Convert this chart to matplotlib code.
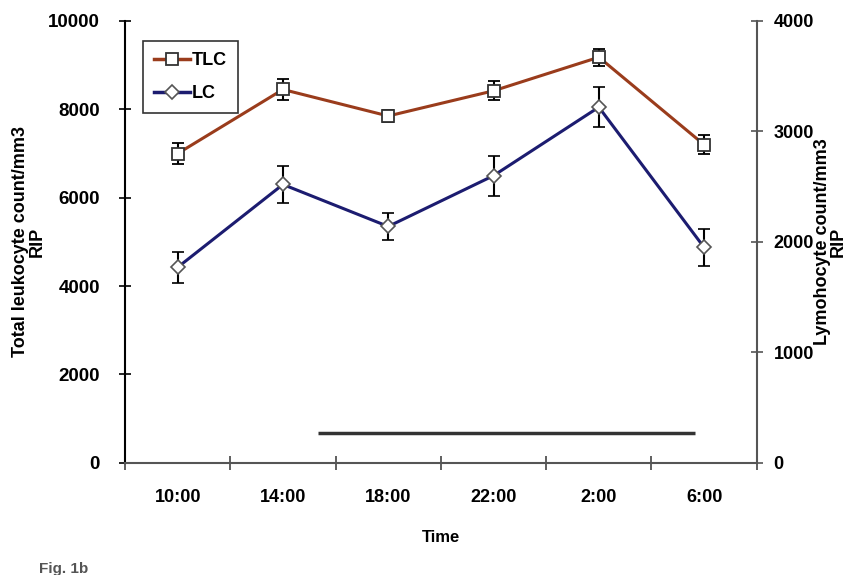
import numpy as np
import matplotlib.pyplot as plt
from matplotlib.lines import Line2D

plt.rcParams['font.family'] = ['Liberation Sans', 'DejaVu Sans']
plt.rcParams['font.weight'] = 'bold'

times = ['10:00', '14:00', '18:00', '22:00', '2:00', '6:00']
tlc = [7000, 8450, 7850, 8420, 9180, 7200]
tlc_err = [240, 235, 140, 215, 190, 215]
lc = [1770, 2520, 2140, 2600, 3220, 1950]
lc_err = [140, 165, 125, 180, 180, 170]
night_bar = (1.33, 4.91, 680)

x = np.arange(len(times))

fig = plt.figure(figsize=(8.59, 5.75), dpi=100)
ax = fig.add_axes([0.1455, 0.195, 0.7355, 0.7685])
ax2 = ax.twinx()

tlc_color = '#9a3c1c'
lc_color = '#1c1c70'

ax.errorbar(x, tlc, yerr=tlc_err, color=tlc_color, lw=2.2, marker='s', ms=9,
            mfc='white', mec='#333333', mew=1.3, ecolor='black', elinewidth=1.5,
            capsize=4, capthick=2, zorder=3)
ax2.errorbar(x, lc, yerr=lc_err, color=lc_color, lw=2.2, marker='D', ms=7,
             mfc='white', mec='#555555', mew=1.2, ecolor='black', elinewidth=1.5,
             capsize=4, capthick=2, zorder=3)

ax.hlines(night_bar[2], night_bar[0], night_bar[1], color='#333333', lw=2.5)

ax.set_xlim(-0.5, 5.5)
ax.set_ylim(0, 10000)
ax2.set_ylim(0, 4000)

ax.set_xticks(np.arange(-0.5, 6, 1))
ax.set_xticklabels([])
ax.set_xticks(x, minor=True)
ax.set_xticklabels(times, minor=True)
ax.tick_params(axis='x', which='major', direction='inout', length=10, width=1.2, color='#444444')
ax.tick_params(axis='x', which='minor', length=0, pad=19, labelsize=13)

ax.set_yticks(np.arange(0, 10001, 2000))
ax.tick_params(axis='y', direction='inout', length=8, width=1.2, labelsize=13.5, pad=14)
ax2.set_yticks(np.arange(0, 4001, 1000))
ax2.tick_params(axis='y', direction='inout', length=8, width=1.2, labelsize=13, pad=8,
                color='#555555')

for a in (ax, ax2):
    a.spines['top'].set_visible(False)
ax2.spines['left'].set_visible(False)
ax2.spines['bottom'].set_visible(False)
ax.spines['right'].set_visible(False)
ax.spines['left'].set_linewidth(1.5)
ax.spines['bottom'].set_color('#555555')
ax.spines['bottom'].set_linewidth(1.5)
ax2.spines['right'].set_color('#555555')
ax2.spines['right'].set_linewidth(1.5)

ax.set_ylabel('Total leukocyte count/mm3\nRIP', fontsize=13, fontweight='bold',
              linespacing=0.95, labelpad=2)
ax2.set_ylabel('Lymohocyte count/mm3\nRIP', fontsize=13, fontweight='bold',
               linespacing=0.95, labelpad=0)
ax.set_xlabel('Time', fontsize=12, fontweight='bold', labelpad=17)

handles = [Line2D([], [], color=tlc_color, lw=2.5, marker='s', ms=9, mfc='white',
                  mec='#333333', mew=1.3),
           Line2D([], [], color=lc_color, lw=2.5, marker='D', ms=7, mfc='white',
                  mec='#555555', mew=1.2)]
leg = ax.legend(handles, ['TLC', 'LC'], loc='upper left', bbox_to_anchor=(0.015, 0.975),
                fontsize=13, frameon=True, fancybox=False, edgecolor='black',
                handlelength=2.0, handletextpad=0.1, borderpad=0.6, labelspacing=0.9)
leg.get_frame().set_linewidth(1.2)

fig.text(0.045, 0.004, 'Fig. 1b', fontsize=11, fontweight='bold', color='#555555')

fig.savefig('out.png', dpi=100)
